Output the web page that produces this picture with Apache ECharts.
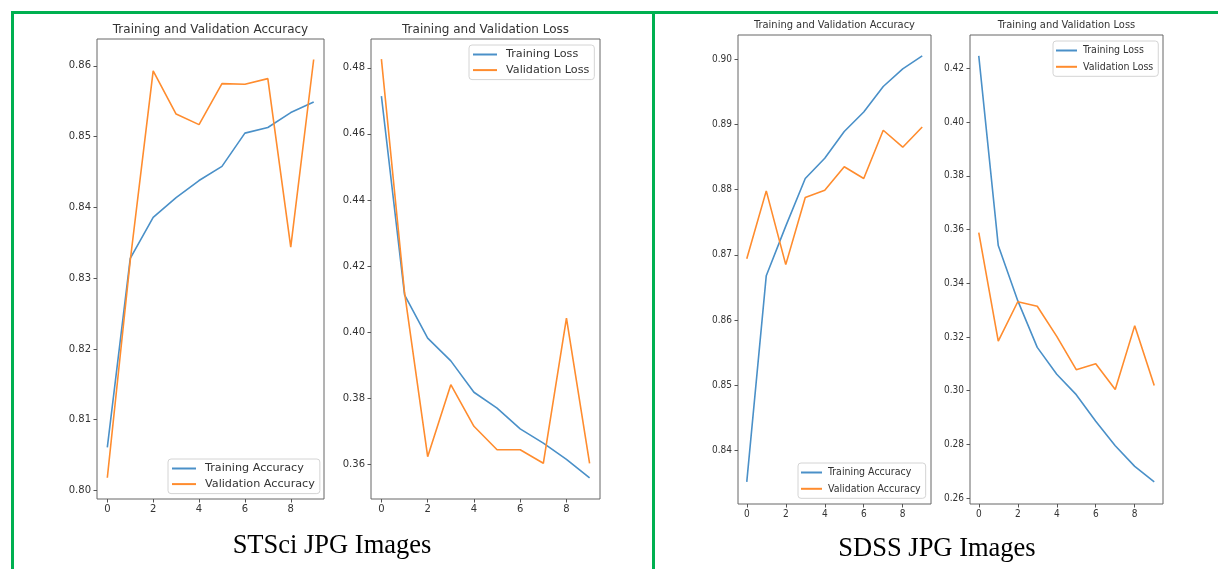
<!DOCTYPE html>
<html>
<head>
<meta charset="utf-8">
<script src="https://cdn.jsdelivr.net/npm/echarts@6/dist/echarts.min.js"></script>
<style>
html, body { margin: 0; padding: 0; background: #fff; }
#chart { width: 1218px; height: 569px; }
</style>
</head>
<body>
<div id="chart"></div>
<script>
// epochs 0..9
const epochs = [0, 1, 2, 3, 4, 5, 6, 7, 8, 9]
const xTicks = [0, 2, 4, 6, 8]

// STSci JPG images
const stsciTrainAcc = [0.8061, 0.8328, 0.8386, 0.8414, 0.8438, 0.8458, 0.8505, 0.8513, 0.8534, 0.8549]
const stsciValAcc = [0.8018, 0.8325, 0.8593, 0.8532, 0.8517, 0.8575, 0.8574, 0.8582, 0.8344, 0.8609]
const stsciTrainLoss = [0.4714, 0.4113, 0.3982, 0.3913, 0.3818, 0.3770, 0.3707, 0.3664, 0.3615, 0.3559]
const stsciValLoss = [0.4826, 0.4120, 0.3623, 0.3841, 0.3715, 0.3644, 0.3644, 0.3603, 0.4042, 0.3603]
const stsciAccTicks = [0.80, 0.81, 0.82, 0.83, 0.84, 0.85, 0.86]
const stsciLossTicks = [0.36, 0.38, 0.40, 0.42, 0.44, 0.46, 0.48]

// SDSS JPG images
const sdssTrainAcc = [0.8352, 0.8668, 0.8744, 0.8817, 0.8848, 0.8889, 0.8919, 0.8958, 0.8985, 0.9005]
const sdssValAcc = [0.8694, 0.8798, 0.8685, 0.8788, 0.8799, 0.8835, 0.8817, 0.8891, 0.8865, 0.8896]
const sdssTrainLoss = [0.4246, 0.3540, 0.3335, 0.3161, 0.3061, 0.2985, 0.2886, 0.2795, 0.2718, 0.2660]
const sdssValLoss = [0.3588, 0.3184, 0.3331, 0.3314, 0.3202, 0.3078, 0.3100, 0.3004, 0.3242, 0.3019]
const sdssAccTicks = [0.84, 0.85, 0.86, 0.87, 0.88, 0.89, 0.90]
const sdssLossTicks = [0.26, 0.28, 0.30, 0.32, 0.34, 0.36, 0.38, 0.40, 0.42]

const blue = '#4a90c8'
const orange = '#ff8c2e'
const green = '#00b050'

const chart = echarts.init(document.getElementById('chart'))

const panels = [
  { grid: { left: 97, top: 39, width: 227, height: 460 }, yMin: 0.7988, yMax: 0.8638, yTicks: stsciAccTicks, font: 'DejaVu Sans', title: 'Training and Validation Accuracy', titleSize: 12, titleTop: 24 },
  { grid: { left: 371, top: 39, width: 229, height: 460 }, yMin: 0.3495, yMax: 0.4887, yTicks: stsciLossTicks, font: 'DejaVu Sans', title: 'Training and Validation Loss', titleSize: 12, titleTop: 24 },
  { grid: { left: 738, top: 35, width: 193, height: 469 }, yMin: 0.8318, yMax: 0.9037, yTicks: sdssAccTicks, font: 'DejaVu Sans Condensed', title: 'Training and Validation Accuracy', titleSize: 11, titleTop: 20 },
  { grid: { left: 970, top: 35, width: 193, height: 469 }, yMin: 0.2578, yMax: 0.4324, yTicks: sdssLossTicks, font: 'DejaVu Sans Condensed', title: 'Training and Validation Loss', titleSize: 11, titleTop: 20 }
]

function pairs(ys) {
  return epochs.map(function(x, i) { return [x, ys[i]] })
}

const seriesDefs = [
  { name: 'Training Accuracy', data: stsciTrainAcc, idx: 0, color: blue },
  { name: 'Validation Accuracy', data: stsciValAcc, idx: 0, color: orange },
  { name: 'Training Loss', data: stsciTrainLoss, idx: 1, color: blue },
  { name: 'Validation Loss', data: stsciValLoss, idx: 1, color: orange },
  { name: 'Training Accuracy', data: sdssTrainAcc, idx: 2, color: blue },
  { name: 'Validation Accuracy', data: sdssValAcc, idx: 2, color: orange },
  { name: 'Training Loss', data: sdssTrainLoss, idx: 3, color: blue },
  { name: 'Validation Loss', data: sdssValLoss, idx: 3, color: orange }
]

const legendBase = {
  orient: 'vertical',
  icon: 'rect',
  itemHeight: 2,
  borderColor: '#d4d4d4',
  borderWidth: 1,
  borderRadius: 3,
  backgroundColor: '#fff',
  selectedMode: false
}

// left panel legends (larger text), right panel legends (condensed)
const leftLegendText = { fontFamily: 'DejaVu Sans', fontSize: 11.2, color: '#333', lineHeight: 13, padding: [0, 0, 0, 4] }
const rightLegendText = { fontFamily: 'DejaVu Sans Condensed', fontSize: 10.5, color: '#333', lineHeight: 13, padding: [0, 0, 0, 1] }

chart.setOption({
  animation: false,
  title: panels.map(function(p) {
    return {
      text: p.title,
      left: p.grid.left + p.grid.width / 2,
      top: p.titleTop,
      padding: 0,
      textAlign: 'center',
      textStyle: { fontFamily: p.font, fontSize: p.titleSize, fontWeight: 'normal', color: '#333' }
    }
  }).concat([
    { text: 'STSci JPG Images', left: 332, top: 533, padding: 0, textAlign: 'center',
      textStyle: { fontFamily: 'Liberation Serif', fontSize: 26.5, fontWeight: 'normal', color: '#000' } },
    { text: 'SDSS JPG Images', left: 937, top: 536, padding: 0, textAlign: 'center',
      textStyle: { fontFamily: 'Liberation Serif', fontSize: 26.5, fontWeight: 'normal', color: '#000' } }
  ]),
  legend: [
    Object.assign({}, legendBase, { left: 168, top: 459, itemWidth: 24, itemGap: 2.6, padding: [3, 5, 3, 4],
      data: ['Training Accuracy', 'Validation Accuracy'], textStyle: leftLegendText }),
    Object.assign({}, legendBase, { left: 469, top: 45, itemWidth: 24, itemGap: 2.6, padding: [3, 5, 3, 4],
      data: ['Training Loss', 'Validation Loss'], textStyle: leftLegendText }),
    Object.assign({}, legendBase, { left: 798, top: 463, itemWidth: 21, itemGap: 3.3, padding: [3, 5, 3, 3],
      data: ['Training Accuracy', 'Validation Accuracy'], textStyle: rightLegendText }),
    Object.assign({}, legendBase, { left: 1053, top: 41, itemWidth: 21, itemGap: 3.3, padding: [3, 5, 3, 3],
      data: ['Training Loss', 'Validation Loss'], textStyle: rightLegendText })
  ],
  grid: panels.map(function(p) {
    return Object.assign({ show: true, borderColor: '#666', borderWidth: 1, backgroundColor: 'transparent' }, p.grid)
  }),
  xAxis: panels.map(function(p, i) {
    return {
      type: 'value', gridIndex: i, min: -0.45, max: 9.45,
      splitLine: { show: false },
      axisLine: { show: false, onZero: false },
      axisTick: { show: true, inside: false, length: 3.5, lineStyle: { color: '#555' }, customValues: xTicks },
      axisLabel: { customValues: xTicks, color: '#333', fontFamily: p.font, fontSize: 10, margin: 5 }
    }
  }),
  yAxis: panels.map(function(p, i) {
    return {
      type: 'value', gridIndex: i, min: p.yMin, max: p.yMax,
      splitLine: { show: false },
      axisLine: { show: false, onZero: false },
      axisTick: { show: true, inside: false, length: 3.5, lineStyle: { color: '#555' }, customValues: p.yTicks },
      axisLabel: { customValues: p.yTicks, color: '#333', fontFamily: p.font, fontSize: 10, margin: 6,
        formatter: function(v) { return v.toFixed(2) } }
    }
  }),
  series: seriesDefs.map(function(s) {
    return {
      name: s.name, type: 'line', xAxisIndex: s.idx, yAxisIndex: s.idx,
      data: pairs(s.data), showSymbol: false, symbol: 'none',
      color: s.color, lineStyle: { width: 1.6, color: s.color }
    }
  }),
  graphic: [
    { type: 'rect', shape: { x: 11, y: 11, width: 1207, height: 3 }, style: { fill: green }, silent: true },
    { type: 'rect', shape: { x: 11, y: 11, width: 3, height: 558 }, style: { fill: green }, silent: true },
    { type: 'rect', shape: { x: 652, y: 11, width: 3, height: 558 }, style: { fill: green }, silent: true }
  ]
})
</script>
</body>
</html>
